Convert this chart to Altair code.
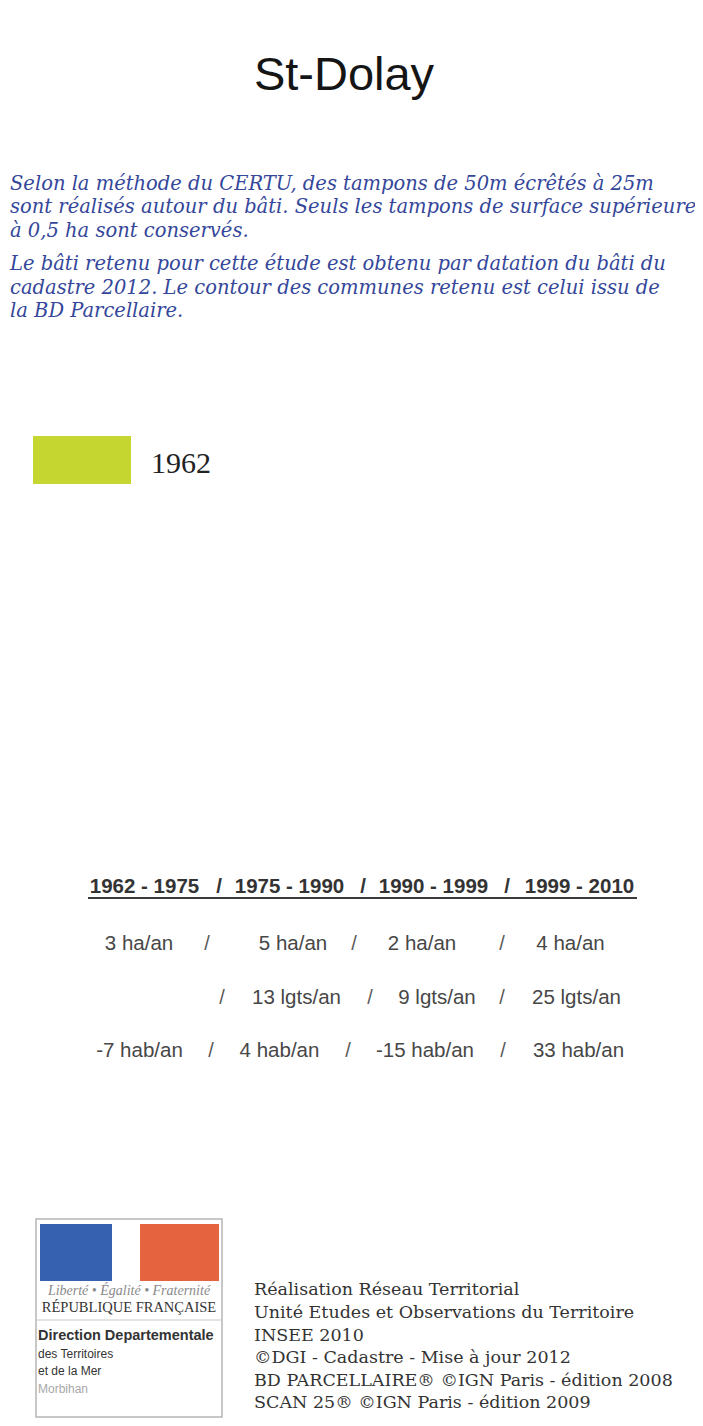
import altair as alt
import pandas as pd

# ---------------- content ----------------
commune = ["St-Dolay"]

note_lines = [
    "Selon la méthode du CERTU, des tampons de 50m écrêtés à 25m",
    "sont réalisés autour du bâti. Seuls les tampons de surface supérieure",
    "à 0,5 ha sont conservés.",
    "Le bâti retenu pour cette étude est obtenu par datation du bâti du",
    "cadastre 2012. Le contour des communes retenu est celui issu de",
    "la BD Parcellaire.",
]

legend_years = ["1962"]

periods = ["1962 - 1975", "1975 - 1990", "1990 - 1999", "1999 - 2010"]
surface_per_year = ["3 ha/an", "5 ha/an", "2 ha/an", "4 ha/an"]
housing_per_year = ["", "13 lgts/an", "9 lgts/an", "25 lgts/an"]
population_per_year = ["-7 hab/an", "4 hab/an", "-15 hab/an", "33 hab/an"]

credits = [
    "Réalisation Réseau Territorial",
    "Unité Etudes et Observations du Territoire",
    "INSEE 2010",
    "©DGI - Cadastre - Mise à jour 2012",
    "BD PARCELLAIRE® ©IGN Paris - édition 2008",
    "SCAN 25® ©IGN Paris - édition 2009",
]

logo_motto = ["Liberté • Égalité • Fraternité"]
logo_republic = ["RÉPUBLIQUE FRANÇAISE"]
logo_direction = ["Direction Departementale"]
logo_service = ["des Territoires", "et de la Mer"]
logo_dept = ["Morbihan"]

# ---------------- layout (page pixel positions, kept apart from the content) ----------------
title_pos = [(344, 76)]
note_x = 10
note_y = [184, 207, 231, 264, 288, 311]
legend_box = [(33, 131, 436, 484)]
legend_label_pos = [(151, 464)]

header_y = 887
header_x = [144.5, 289.5, 433.5, 579.5]
header_slash_x = [219, 363, 507]
underline = [(88, 637, 898)]
row_y = [944, 998, 1051]
row_x = [
    [139, 293, 422, 570.5],
    [0, 296.5, 437, 576.5],
    [139.5, 279.5, 425, 578.5],
]
row_slash_x = [
    [207, 354, 502],
    [222, 370, 502],
    [211, 348, 503],
]

credits_x = 254
credits_y = [1290, 1313, 1336, 1358, 1381, 1403]

logo_box = [(36, 222, 1219, 1417)]
logo_blue = [(40, 112, 1224, 1281)]
logo_red = [(140, 219, 1224, 1281)]
logo_rule = [(37, 221, 1320)]

# ---------------- helpers ----------------
X = lambda f="x": alt.X(f"{f}:Q", scale=alt.Scale(domain=[8, 695], nice=False, zero=False), axis=None)
Y = lambda f="y": alt.Y(f"{f}:Q", scale=alt.Scale(domain=[8, 1418], nice=False, zero=False, reverse=True), axis=None)


def text_layer(labels, xs, ys, **mark):
    df = pd.DataFrame({"label": labels, "x": xs, "y": ys})
    df = df[df["label"] != ""]
    return alt.Chart(df).mark_text(baseline="middle", **mark).encode(
        x=X(), y=Y(), text="label:N"
    )


def rect_layer(boxes, **mark):
    df = pd.DataFrame(boxes, columns=["x", "x2", "y", "y2"])
    return alt.Chart(df).mark_rect(**mark).encode(
        x=X(), x2="x2:Q", y=Y(), y2="y2:Q"
    )


def hrule_layer(rules, **mark):
    df = pd.DataFrame(rules, columns=["x", "x2", "y"])
    return alt.Chart(df).mark_rule(**mark).encode(x=X(), x2="x2:Q", y=Y())


layers = []

# title
layers.append(text_layer(commune, [p[0] for p in title_pos], [p[1] for p in title_pos],
                         align="center", font="Liberation Sans", fontSize=47, color="#151515"))

# explanatory note
layers.append(text_layer(note_lines, [note_x] * len(note_lines), note_y,
                         align="left", font="DejaVu Serif", fontStyle="italic",
                         fontSize=19.5, color="#34479a"))

# legend
layers.append(rect_layer(legend_box, color="#c6d631"))
layers.append(text_layer(legend_years, [p[0] for p in legend_label_pos], [p[1] for p in legend_label_pos],
                         align="left", font="Liberation Serif", fontSize=30, color="#222222"))

# table header
layers.append(text_layer(periods, header_x, [header_y] * 4,
                         align="center", font="Liberation Sans", fontSize=20.5,
                         fontWeight="bold", color="#333333"))
layers.append(text_layer(["/"] * 3, header_slash_x, [header_y] * 3,
                         align="center", font="Liberation Sans", fontSize=20.5,
                         fontWeight="bold", color="#333333"))
layers.append(hrule_layer(underline, color="#3a3a3a", strokeWidth=2))

# table rows
for vals, xs, sxs, yy in zip([surface_per_year, housing_per_year, population_per_year],
                             row_x, row_slash_x, row_y):
    layers.append(text_layer(vals, xs, [yy] * 4, align="center", font="Liberation Sans",
                             fontSize=20.5, color="#474747"))
    layers.append(text_layer(["/"] * 3, sxs, [yy] * 3, align="center", font="Liberation Sans",
                             fontSize=20, color="#5a5a5a"))

# logo
layers.append(rect_layer(logo_box, fill="white", stroke="#b5b5b5", strokeWidth=1.5))
layers.append(rect_layer(logo_blue, color="#3561b0"))
layers.append(rect_layer(logo_red, color="#e5633f"))
layers.append(text_layer(logo_motto, [129], [1291], align="center", font="Liberation Serif",
                         fontStyle="italic", fontSize=14, color="#8a8a8a"))
layers.append(text_layer(logo_republic, [129], [1308], align="center", font="Liberation Serif",
                         fontSize=14.5, color="#333333"))
layers.append(hrule_layer(logo_rule, color="#c8c8c8", strokeWidth=1))
layers.append(text_layer(logo_direction, [38], [1336], align="left", font="Liberation Sans",
                         fontSize=14.5, fontWeight="bold", color="#333333"))
layers.append(text_layer(logo_service, [38, 38], [1354, 1371], align="left", font="Liberation Sans",
                         fontSize=12, color="#333333"))
layers.append(text_layer(logo_dept, [38], [1389], align="left", font="Liberation Sans",
                         fontSize=12, color="#a8a8a8"))

# credits
layers.append(text_layer(credits, [credits_x] * len(credits), credits_y,
                         align="left", font="DejaVu Serif", fontSize=17.5, color="#333333"))

chart = alt.layer(*layers).properties(
    width=687,
    height=1410,
    padding=0,
    autosize=alt.AutoSizeParams(type="none"),
    background="white",
).configure_view(stroke=None)

chart.save("out.html", embed_options={"renderer": "svg", "actions": False})
